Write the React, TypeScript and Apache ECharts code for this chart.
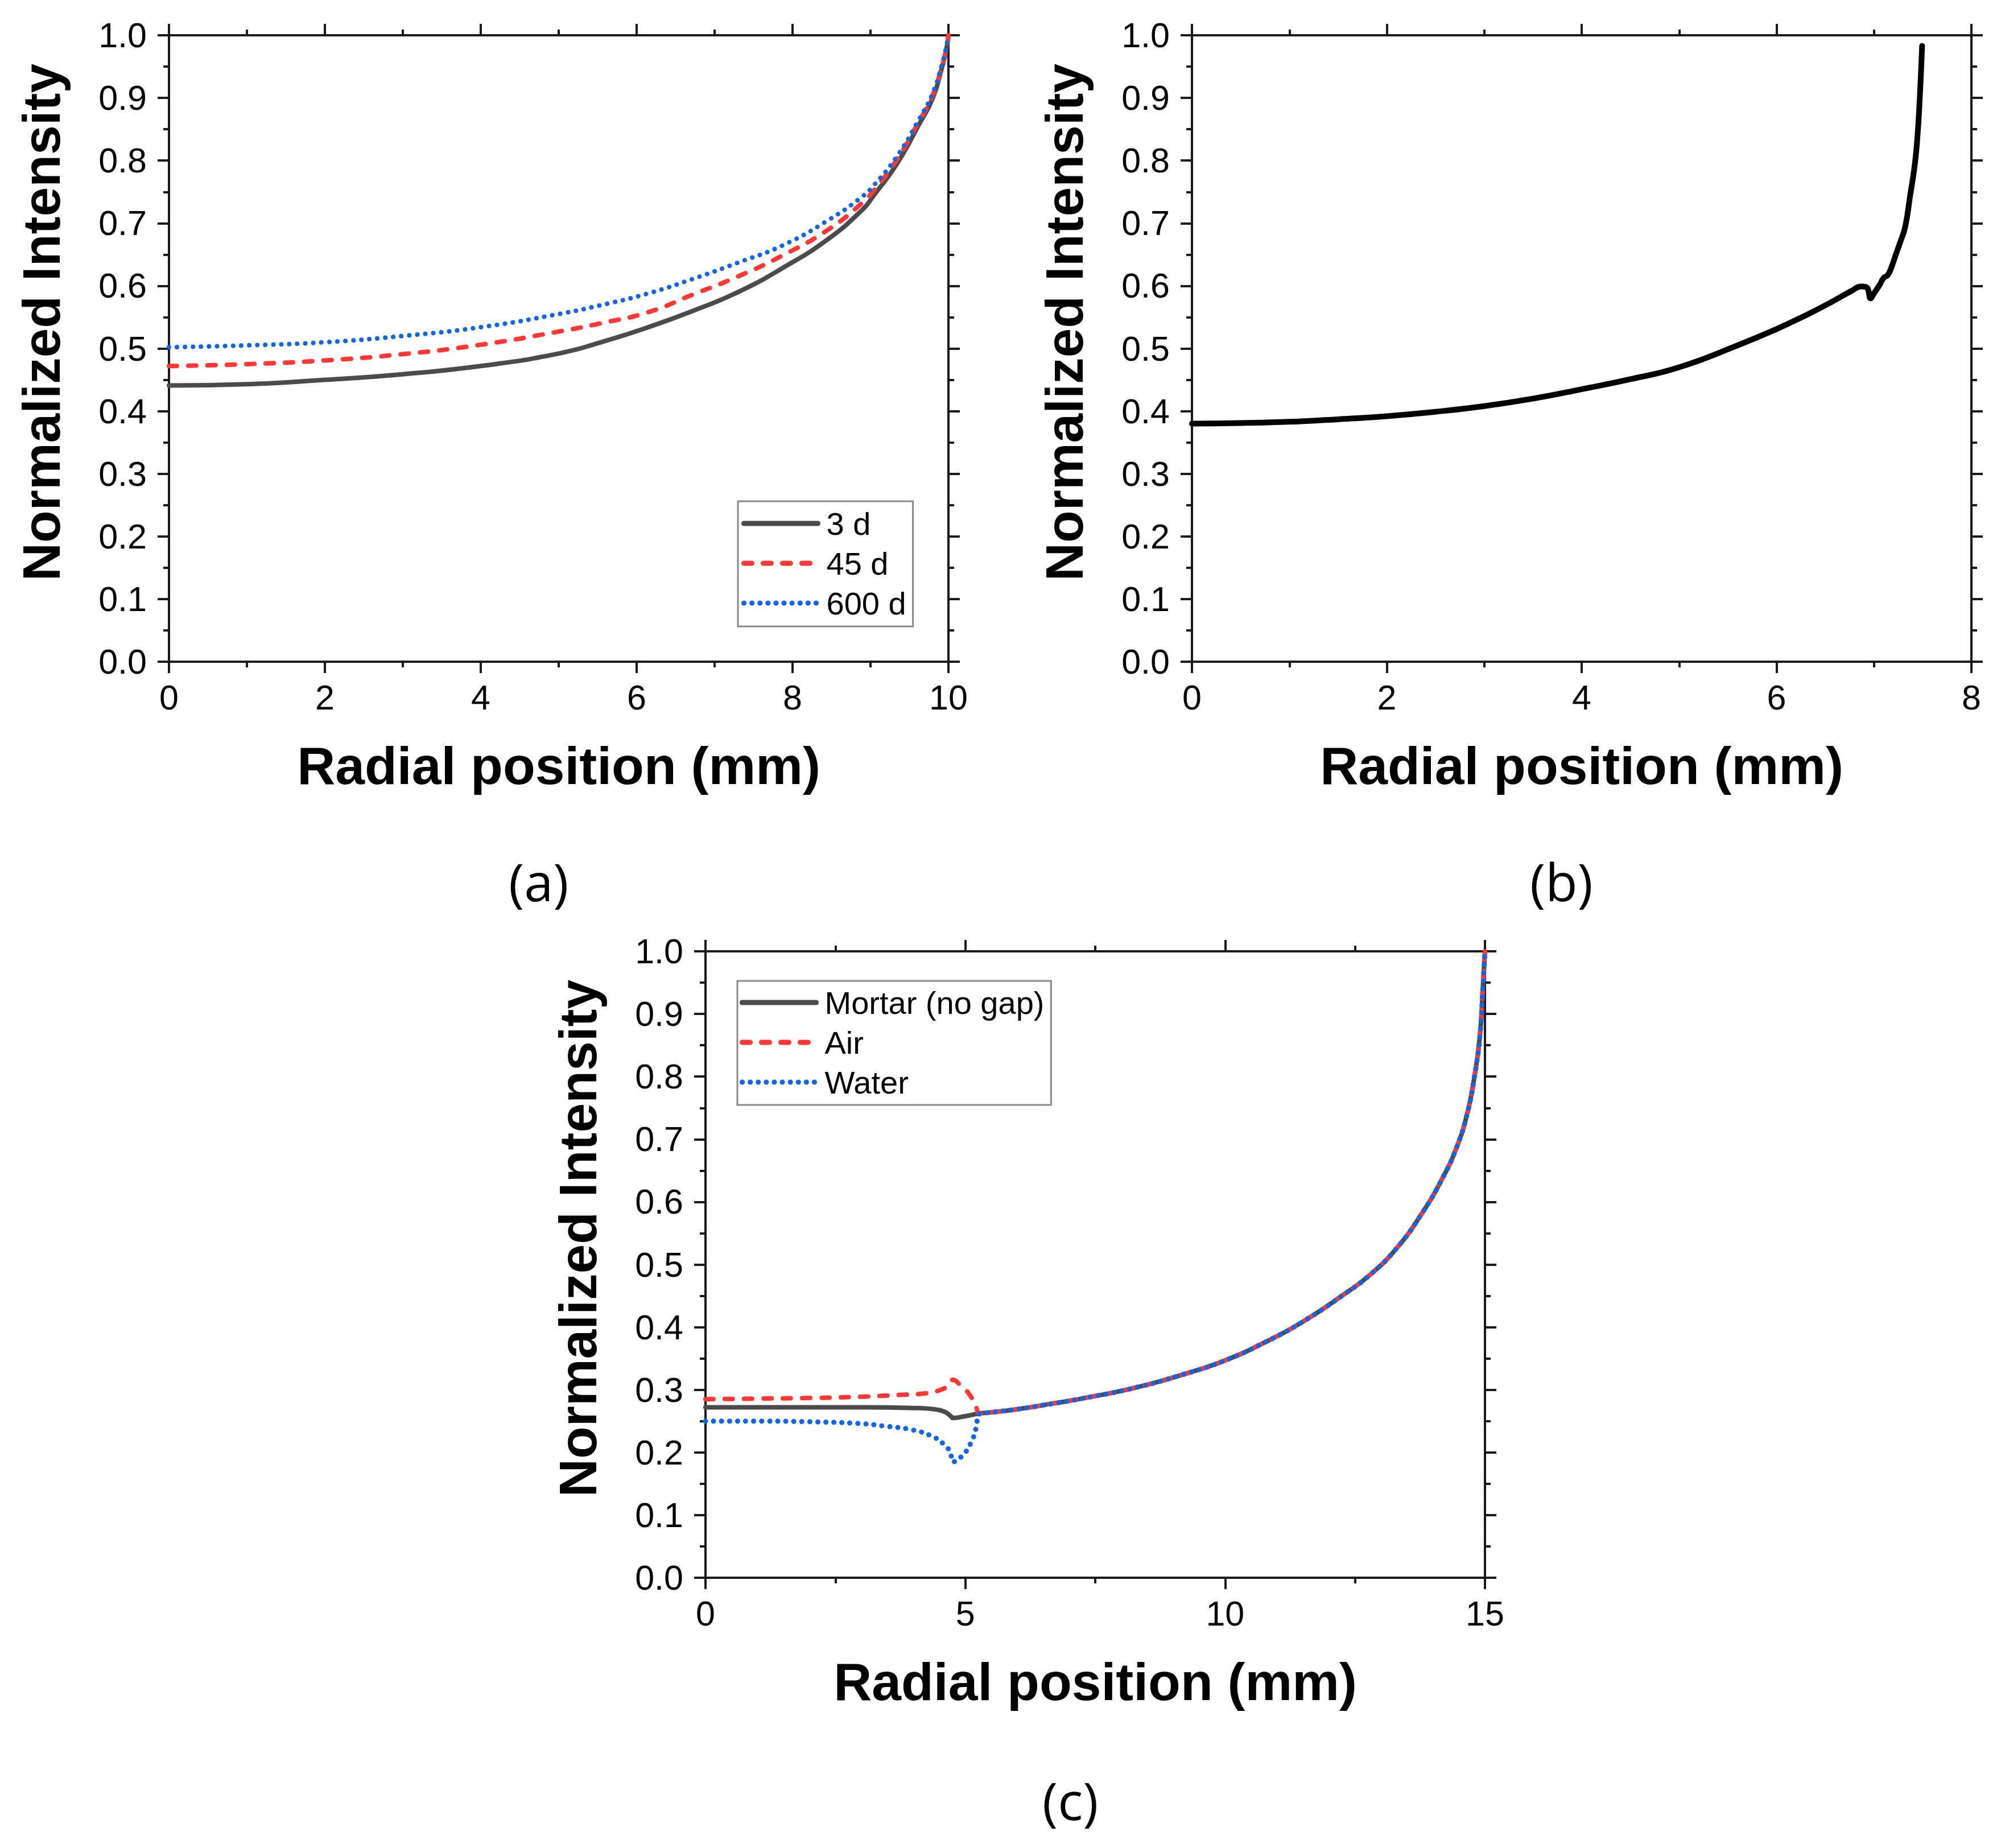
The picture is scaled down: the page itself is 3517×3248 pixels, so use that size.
import React, { useEffect, useRef } from "react";
import * as echarts from "echarts";

// ---------- Panel (a) ----------
const aX = [0, 1, 2, 3, 4, 5, 5.57, 6.15, 6.72, 7.3, 7.88, 8.46, 8.9, 9.04, 9.33, 9.62, 9.8, 9.92, 9.97, 10];
const a3d = [0.441, 0.443, 0.45, 0.459, 0.472, 0.492, 0.511, 0.534, 0.56, 0.59, 0.629, 0.675, 0.722, 0.744, 0.793, 0.857, 0.9, 0.95, 0.975, 1.0];
const a45d = [0.472, 0.475, 0.481, 0.491, 0.506, 0.527, 0.541, 0.558, 0.586, 0.615, 0.649, 0.69, 0.733, 0.752, 0.8, 0.862, 0.905, 0.952, 0.977, 1.0];
const a600d = [0.502, 0.505, 0.51, 0.52, 0.534, 0.555, 0.57, 0.588, 0.611, 0.637, 0.665, 0.705, 0.743, 0.76, 0.805, 0.865, 0.908, 0.955, 0.98, 1.0];
const aNames = ["3 d", "45 d", "600 d"];

// ---------- Panel (b) ----------
const bX = [0, 0.5, 1, 1.5, 2, 2.5, 3, 3.5, 4, 4.5, 5, 5.6, 6, 6.3, 6.55, 6.77, 6.87, 6.92, 6.94, 6.965, 7.0, 7.06, 7.1, 7.14, 7.18, 7.22, 7.27, 7.32, 7.37, 7.42, 7.45, 7.47, 7.485, 7.494];
const bY = [0.38, 0.381, 0.383, 0.387, 0.392, 0.399, 0.408, 0.42, 0.435, 0.451, 0.47, 0.505, 0.531, 0.553, 0.573, 0.592, 0.599, 0.598, 0.594, 0.58, 0.588, 0.602, 0.613, 0.617, 0.63, 0.648, 0.67, 0.694, 0.743, 0.795, 0.847, 0.9, 0.95, 0.983];

// ---------- Panel (c) ----------
const cMortarX = [0, 1, 2, 3, 4, 4.4, 4.6, 4.72, 4.76, 5.0, 5.25];
const cMortarY = [0.272, 0.272, 0.272, 0.272, 0.271, 0.269, 0.265, 0.258, 0.255, 0.258, 0.262];
const cAirX = [0, 1, 2, 3, 3.76, 4.2, 4.56, 4.7, 4.76, 4.9, 5.03, 5.15, 5.22, 5.27];
const cAirY = [0.285, 0.286, 0.287, 0.289, 0.292, 0.294, 0.301, 0.31, 0.316, 0.308, 0.298, 0.283, 0.27, 0.262];
const cWaterX = [0, 1, 2, 3, 3.45, 3.98, 4.38, 4.6, 4.71, 4.76, 4.92, 5.1, 5.21, 5.25];
const cWaterY = [0.25, 0.25, 0.249, 0.246, 0.242, 0.236, 0.225, 0.212, 0.2, 0.185, 0.193, 0.214, 0.24, 0.26];
const cTailX = [5.5, 6, 6.68, 7.24, 8.25, 9.25, 10, 10.77, 11.52, 12.28, 12.78, 13.29, 13.79, 14.19, 14.45, 14.65, 14.8, 14.9, 14.96, 15];
const cTailY = [0.264, 0.269, 0.278, 0.286, 0.303, 0.326, 0.347, 0.376, 0.41, 0.452, 0.483, 0.525, 0.582, 0.639, 0.686, 0.738, 0.801, 0.863, 0.942, 1.0];
const cNames = ["Mortar (no gap)", "Air", "Water"];

const yLabels = ["0.0", "0.1", "0.2", "0.3", "0.4", "0.5", "0.6", "0.7", "0.8", "0.9", "1.0"];
const panelLabels = ["(a)", "(b)", "(c)"];
const xTitle = "Radial position (mm)";
const yTitle = "Normalized Intensity";

const pairs = (xs: number[], ys: number[]) => xs.map((x, i) => [x, ys[i]]);

const FONT = "Liberation Sans, Arial, sans-serif";
const AX = "#1a1a1a";
const GRAY = "#4b4b4b";
const RED = "#ff3838";
const BLUE = "#1464e6";

const grids = [
  { left: 297, top: 62, width: 1370, height: 1101 },
  { left: 2095, top: 62, width: 1370, height: 1101 },
  { left: 1240, top: 1672, width: 1370, height: 1101 },
];
const xRanges = [
  { max: 10, interval: 2 },
  { max: 8, interval: 2 },
  { max: 15, interval: 5 },
];

function buildOption() {
  const xAxis: any[] = [];
  const yAxis: any[] = [];
  const axisLine = { show: true, onZero: false, lineStyle: { color: AX, width: 4 } };
  const axisTick = { show: true, inside: false, length: 20, lineStyle: { color: AX, width: 4 } };
  const minorTick = { show: true, splitNumber: 2, length: 10, lineStyle: { color: AX, width: 4 } };
  grids.forEach((g, gi) => {
    const r = xRanges[gi];
    ["bottom", "top"].forEach((pos) => {
      xAxis.push({
        type: "value",
        gridIndex: gi,
        position: pos,
        min: 0,
        max: r.max,
        interval: r.interval,
        axisLine,
        axisTick,
        minorTick,
        splitLine: { show: false },
        minorSplitLine: { show: false },
        axisLabel: {
          show: pos === "bottom",
          margin: 32,
          fontSize: 61,
          color: "#000",
          fontFamily: FONT,
        },
        name: pos === "bottom" ? xTitle : "",
        nameLocation: "middle",
        nameGap: 136,
        nameTextStyle: { fontSize: 93, fontWeight: "bold", color: "#000", fontFamily: FONT },
      });
    });
    ["left", "right"].forEach((pos) => {
      yAxis.push({
        type: "value",
        gridIndex: gi,
        position: pos,
        min: 0,
        max: 1,
        interval: 0.1,
        axisLine,
        axisTick,
        minorTick,
        splitLine: { show: false },
        minorSplitLine: { show: false },
        axisLabel: {
          show: pos === "left",
          margin: 39,
          fontSize: 61,
          color: "#000",
          fontFamily: FONT,
          formatter: (v: number) => yLabels[Math.round(v * 10)],
        },
        name: pos === "left" ? yTitle : "",
        nameLocation: "middle",
        nameGap: 178,
        nameRotate: 90,
        nameTextStyle: {
          fontSize: 93,
          fontWeight: "bold",
          color: "#000",
          fontFamily: FONT,
          padding: [0, 0, 0, 92],
        },
      });
    });
  });

  const common = { type: "line", showSymbol: false, symbol: "none", smooth: 0.5, silent: true };
  const solid = (c: string, w: number) => ({ color: c, width: w, type: "solid", cap: "round", join: "round" });
  const dashed = (w: number) => ({ color: RED, width: w, type: [14, 20], cap: "round", join: "round" });
  const dotted = (w: number) => ({ color: BLUE, width: w, type: [0.1, 14], cap: "round", join: "round" });

  const series: any[] = [
    { ...common, name: aNames[0], xAxisIndex: 0, yAxisIndex: 0, data: pairs(aX, a3d), color: GRAY, lineStyle: solid(GRAY, 8) },
    { ...common, name: aNames[1], xAxisIndex: 0, yAxisIndex: 0, data: pairs(aX, a45d), color: RED, lineStyle: dashed(8) },
    { ...common, name: aNames[2], xAxisIndex: 0, yAxisIndex: 0, data: pairs(aX, a600d), color: BLUE, lineStyle: dotted(8) },
    { ...common, name: "Intensity", xAxisIndex: 2, yAxisIndex: 2, data: pairs(bX, bY), color: "#000", lineStyle: solid("#000", 10) },
    { ...common, name: cNames[0], xAxisIndex: 4, yAxisIndex: 4, data: pairs(cMortarX.concat(cTailX), cMortarY.concat(cTailY)), color: GRAY, lineStyle: solid(GRAY, 8) },
    { ...common, name: cNames[1], xAxisIndex: 4, yAxisIndex: 4, data: pairs(cAirX.concat(cTailX), cAirY.concat(cTailY)), color: RED, lineStyle: dashed(8) },
    { ...common, name: cNames[2], xAxisIndex: 4, yAxisIndex: 4, data: pairs(cWaterX.concat(cTailX), cWaterY.concat(cTailY)), color: BLUE, lineStyle: dotted(9) },
  ];

  const legendBase = {
    orient: "vertical",
    itemWidth: 130,
    itemHeight: 14,
    itemGap: 14,
    backgroundColor: "#fff",
    borderColor: "#8a8a8a",
    borderWidth: 3,
    borderRadius: 0,
    selectedMode: false,
    itemStyle: { opacity: 0 },
    lineStyle: { width: 9, cap: "round" },
    textStyle: { fontSize: 56, lineHeight: 56, color: "#000", fontFamily: FONT, padding: [0, 0, 0, 10] },
  };

  const legend = [
    { ...legendBase, data: aNames, left: 1297, top: 881, padding: [11, 12, 13, 6] },
    { ...legendBase, data: cNames, left: 1296, top: 1724, padding: [10, 12, 12, 4] },
  ];

  const graphic = [
    { type: "text", left: 944 - 50, top: 1552 - 50, style: { text: panelLabels[0], fontSize: 92, fontFamily: "Open Sans, sans-serif", fill: "#000" } },
    { type: "text", left: 2739 - 50, top: 1552 - 50, style: { text: panelLabels[1], fontSize: 92, fontFamily: "Open Sans, sans-serif", fill: "#000" } },
    { type: "text", left: 1882 - 50, top: 3167 - 50, style: { text: panelLabels[2], fontSize: 92, fontFamily: "Open Sans, sans-serif", fill: "#000" } },
  ];

  return {
    animation: false,
    backgroundColor: "#fff",
    textStyle: { fontFamily: FONT },
    grid: grids.map((g) => ({ ...g, containLabel: false })),
    xAxis,
    yAxis,
    legend,
    series,
    graphic,
  };
}

export default function App() {
  const ref = useRef<HTMLDivElement>(null);
  useEffect(() => {
    if (!ref.current) return;
    const chart = echarts.init(ref.current, undefined, { renderer: "svg" });
    chart.setOption(buildOption() as any);
    return () => chart.dispose();
  }, []);
  return (
    <div
      ref={ref}
      style={{ position: "fixed", left: 0, top: 0, width: 3517, height: 3248, background: "#fff" }}
    />
  );
}
